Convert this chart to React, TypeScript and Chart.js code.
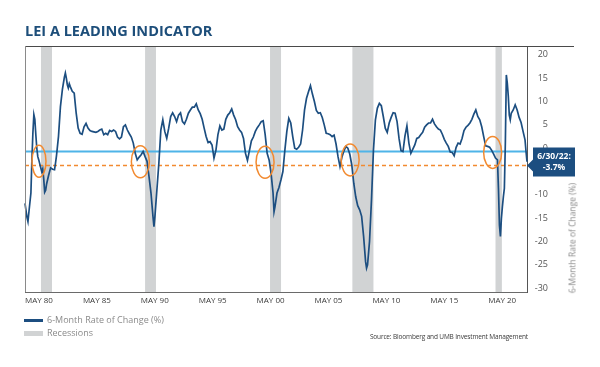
import React, { useEffect, useRef } from "react";
import { Chart, registerables } from "chart.js";

Chart.register(...registerables);

// ---- data ----
// x is a reading step (~1 month); converted to decimal year below
const X_MIN = 1979.17;
const X_MAX = 2022.52;
const STEP_YEARS = 0.085;

const lei1979to1987: [number, number][] = [
  [0, -11.8], [2, -14.8], [3, -15.7], [4, -13.6], [6, -9.6], [7, -2.5], [8, 3.2], [9, 7.2], [10, 6.2],
  [11, 2.9], [12, 0], [13, -1.8], [14, -2.5], [16, -4.2], [17, -5], [18, -4.4], [19, -6.5], [20, -9.4],
  [21, -9], [22, -7.6], [24, -5.8], [26, -4.2], [28, -4.5], [30, -4.6], [31, -3.2], [32, -1.6], [34, 2.5],
  [36, 8.9], [38, 12.6], [40, 15.2], [41, 16.1], [42, 15.0], [43, 13.6], [44, 12.9], [45, 13.8], [46, 13.2],
  [48, 12.2], [50, 11.8], [51, 9.6], [52, 7.5], [54, 4.3], [56, 3.2], [58, 3.0], [60, 4.6], [62, 5.3],
  [64, 4.3], [66, 3.8], [68, 3.6], [70, 3.5], [72, 3.4], [74, 3.6], [76, 3.9], [78, 4.1], [80, 2.9],
  [82, 3.2], [84, 2.9], [86, 3.8], [88, 3.6], [90, 3.9], [92, 3.6], [94, 2.4], [96, 2.0], [98, 2.4],
  [100, 4.6], [102, 5.0],
];
const lei1987to1996: [number, number][] = [
  [104, 3.9], [106, 3.1], [108, 2.4], [110, 1.1], [112, -1.1], [114, -2.5], [116, -1.9], [118, -1.4],
  [120, -0.7], [122, -1.8], [124, -2.8], [126, -6.1], [128, -9.6], [130, -14.6], [131, -16.8], [132, -14.6],
  [134, -8.9], [136, -3.2], [138, 3.9], [140, 6.1], [142, 3.6], [144, 2.1], [146, 4.3], [148, 6.8],
  [150, 7.6], [152, 6.8], [154, 5.7], [156, 7.1], [158, 7.6], [160, 5.7], [162, 5.2], [164, 6.2],
  [166, 7.5], [168, 8.2], [170, 8.8], [172, 8.8], [174, 9.5], [176, 8.2], [178, 7.4], [180, 6.2],
  [182, 4.3], [184, 2.5], [186, 1.2], [188, 1.4], [190, 0.7], [192, -2.1], [194, -0.4], [196, 2.9],
  [198, 4.8], [200, 3.9], [202, 4.1], [204, 6.2],
];
const lei1996to2005: [number, number][] = [
  [206, 7.1], [208, 7.6], [210, 8.4], [212, 7.1], [214, 6.1], [216, 4.6], [218, 3.9], [220, 3.4],
  [222, 2.1], [224, -1.1], [226, -2.6], [228, -0.5], [230, 1.6], [232, 2.4], [234, 3.6], [236, 4.4],
  [238, 5.0], [240, 5.7], [242, 5.9], [244, 2.9], [246, -1.1], [248, -2.5], [250, -5.4], [252, -9.6],
  [253, -13.6], [254, -12.5], [256, -9.6], [258, -8.4], [260, -6.8], [262, -5.0], [264, -0.4], [266, 3.6],
  [268, 6.4], [270, 5.4], [272, 2.5], [274, 0], [276, -0.2], [278, 0.2], [280, 0.9], [282, 3.9],
  [284, 8.2], [286, 10.7], [288, 12.1], [290, 13.4], [292, 11.6], [294, 10.0], [296, 8.1], [298, 7.5],
  [300, 7.6], [302, 6.6], [304, 5.0], [306, 3.2],
];
const lei2005to2013: [number, number][] = [
  [308, 3.1], [310, 2.9], [312, 2.5], [314, 2.8], [316, 0.9], [318, -1.8], [320, -3.9], [322, -1.9],
  [324, -0.6], [326, 0.4], [328, 0], [330, -1.3], [332, -3.6], [334, -7.5], [336, -10.4], [338, -12.3],
  [340, -13.2], [342, -14.6], [344, -18.9], [346, -24.3], [347, -25.7], [348, -25], [350, -20], [352, -11.1],
  [354, -0.4], [356, 6.1], [358, 8.6], [360, 9.6], [362, 9.1], [364, 6.8], [366, 4.3], [368, 3.4],
  [370, 5.4], [372, 6.6], [374, 7.6], [376, 7.5], [378, 5.7], [380, 2.1], [382, -0.5], [384, -0.7],
  [386, 2.6], [388, 4.8], [390, 1.1], [392, -1.1], [394, -0.2], [396, 0.7], [398, 2.1], [400, 2.3],
  [402, 2.9], [404, 3.4], [406, 4.5], [408, 5.0],
];
const lei2013to2022: [number, number][] = [
  [410, 5.4], [412, 5.4], [414, 6.2], [416, 5.2], [418, 4.6], [420, 4.1], [422, 3.9], [424, 3.0],
  [426, 1.9], [428, 1.1], [430, 0.4], [432, -0.8], [434, -0.9], [436, -1.6], [438, 0.2], [440, 1.1],
  [442, 0.9], [444, 2.1], [446, 3.8], [448, 4.5], [450, 4.9], [452, 5.4], [454, 6.2], [456, 7.3],
  [458, 8.2], [460, 6.8], [462, 6.1], [464, 4.6], [466, 2.5], [468, 0.5], [470, 0.4], [472, 0.2],
  [474, -0.4], [476, -1.2], [478, -2.1], [480, -2.5], [481, -8.6], [482, -16.5], [483, -18.9], [484, -15],
  [485, -12.5], [486, -10.4], [487, -8.6], [488, 1.1], [489, 15.7], [490, 13.9], [491, 11.1], [492, 7.1],
  [493, 6.1], [494, 7.5], [496, 8.2], [498, 9.3], [500, 8.2], [502, 6.6], [504, 5.5], [506, 3.6],
  [508, 1.8], [509, -0.7], [510, -2.9], [511, -3.4], [512, -3.7],
];

// recession shading, decimal years
const recessions: [number, number][] = [
  [1980.55, 1981.5],
  [1989.54, 1990.48],
  [2000.33, 2001.28],
  [2007.44, 2009.26],
  [2019.8, 2020.35],
];

// circled warning points (step, value)
const circled: [number, number][] = [
  [14.2, -2.8],
  [117.2, -2.9],
  [243.9, -3.0],
  [330.3, -2.5],
  [475.1, -0.9],
];

const xTickYears = [1980.375, 1985.375, 1990.375, 1995.375, 2000.375, 2005.375, 2010.375, 2015.375, 2020.375];
const xTickLabels = ["MAY 80", "MAY 85", "MAY 90", "MAY 95", "MAY 00", "MAY 05", "MAY 10", "MAY 15", "MAY 20"];
const yTicks = [20, 15, 10, 5, 0, -5, -10, -15, -20, -25, -30];
const Y_MIN = -30.8;
const Y_MAX = 21.9;
const blueRefLevel = -0.7;
const latestValue = -3.7;
const latestLabel = ["6/30/22:", "-3.7%"];

const NAVY = "#1c4e80";
const LIGHT_BLUE = "#4fb4e8";
const ORANGE = "#f28a30";
const REC_GRAY = "#d1d3d4";
const FONT = "'Open Sans', 'Noto Sans', sans-serif";

const toYear = (m: number) => X_MIN + m * STEP_YEARS;

const decorPlugin = {
  id: "decor",
  beforeDatasetsDraw(chart: any) {
    const { ctx, chartArea, scales } = chart;
    const xs = scales.x;
    ctx.save();
    ctx.fillStyle = REC_GRAY;
    recessions.forEach(([a, b]) => {
      const x1 = xs.getPixelForValue(a);
      const x2 = xs.getPixelForValue(b);
      ctx.fillRect(x1, chartArea.top, x2 - x1, chartArea.bottom - chartArea.top);
    });
    ctx.restore();
  },
  afterDraw(chart: any) {
    const { ctx, chartArea, scales } = chart;
    const xs = scales.x;
    const ys = scales.y;
    ctx.save();
    // frame: top and left
    ctx.strokeStyle = "#4a4a4a";
    ctx.lineWidth = 1.2;
    ctx.beginPath();
    ctx.moveTo(chartArea.left, chartArea.top + 0.5);
    ctx.lineTo(574, chartArea.top + 0.5);
    ctx.stroke();
    ctx.strokeStyle = "#8a8a8a";
    ctx.lineWidth = 1;
    ctx.beginPath();
    ctx.moveTo(chartArea.left + 0.5, chartArea.top);
    ctx.lineTo(chartArea.left + 0.5, chartArea.bottom);
    ctx.stroke();

    // circles
    ctx.strokeStyle = ORANGE;
    ctx.lineWidth = 1.5;
    circled.forEach(([m, v], i) => {
      const cx = xs.getPixelForValue(toYear(m));
      const cy = ys.getPixelForValue(v);
      ctx.beginPath();
      ctx.ellipse(cx, cy, i === 0 ? 7 : 9, 16, 0, 0, Math.PI * 2);
      ctx.stroke();
    });

    // latest value callout
    const yv = ys.getPixelForValue(latestValue);
    const tip = chartArea.right;
    const left = tip + 6;
    const right = 575;
    const top = yv - 18;
    const bottom = yv + 11;
    ctx.fillStyle = NAVY;
    ctx.beginPath();
    ctx.moveTo(left, top);
    ctx.lineTo(right, top);
    ctx.lineTo(right, bottom);
    ctx.lineTo(left, bottom);
    ctx.lineTo(left, yv + 6);
    ctx.lineTo(tip, yv);
    ctx.lineTo(left, yv - 6);
    ctx.closePath();
    ctx.fill();
    ctx.fillStyle = "#ffffff";
    ctx.font = `bold 8.5px ${FONT}`;
    ctx.textAlign = "center";
    ctx.textBaseline = "middle";
    const cx = (left + right) / 2;
    ctx.fillText(latestLabel[0], cx, yv - 9);
    ctx.fillText(latestLabel[1], cx, yv + 2.5);
    ctx.restore();
  },
};

export default function App() {
  const canvasRef = useRef<HTMLCanvasElement | null>(null);

  useEffect(() => {
    if (!canvasRef.current) return;
    const allPoints = [
      ...lei1979to1987,
      ...lei1987to1996,
      ...lei1996to2005,
      ...lei2005to2013,
      ...lei2013to2022,
    ].map(([m, v]) => ({ x: toYear(m), y: v }));

    const chart = new Chart(canvasRef.current, {
      type: "line",
      data: {
        datasets: [
          {
            label: "6-Month Rate of Change (%)",
            data: allPoints,
            borderColor: NAVY,
            borderWidth: 1.7,
            pointRadius: 0,
            tension: 0,
            clip: false as any,
          },
          {
            label: "ref",
            data: [
              { x: X_MIN, y: blueRefLevel },
              { x: X_MAX, y: blueRefLevel },
            ],
            borderColor: LIGHT_BLUE,
            borderWidth: 1.8,
            pointRadius: 0,
          },
          {
            label: "latest",
            data: [
              { x: X_MIN, y: latestValue },
              { x: X_MAX, y: latestValue },
            ],
            borderColor: ORANGE,
            borderWidth: 1.4,
            borderDash: [4, 3],
            pointRadius: 0,
          },
        ],
      },
      options: {
        animation: false,
        responsive: false,
        events: [],
        layout: { padding: { left: 25, top: 46, right: 52, bottom: 0 } },
        plugins: {
          legend: { display: false },
          tooltip: { enabled: false },
          title: { display: false },
        },
        scales: {
          x: {
            type: "linear",
            min: X_MIN,
            max: X_MAX,
            grid: { display: false, drawTicks: false },
            border: { display: true, color: "#6a6a6a", width: 1 },
            afterBuildTicks: (s: any) => {
              s.ticks = xTickYears.map((v) => ({ value: v }));
            },
            afterFit: (s: any) => {
              s.height = 75;
            },
            ticks: {
              autoSkip: false,
              maxRotation: 0,
              minRotation: 0,
              padding: 4,
              color: "#3a3a3a",
              font: { family: FONT, size: 8 },
              callback: (_v: any, i: number) => xTickLabels[i],
            },
          },
          y: {
            type: "linear",
            position: "right",
            min: Y_MIN,
            max: Y_MAX,
            grid: { display: false, drawTicks: false },
            border: { display: true, color: "#555555", width: 1 },
            afterBuildTicks: (s: any) => {
              s.ticks = yTicks.map((v) => ({ value: v }));
            },
            afterFit: (s: any) => {
              s.width = 21;
            },
            ticks: {
              padding: 8,
              crossAlign: "far",
              color: "#555555",
              font: { family: FONT, size: 9 },
              callback: (v: any) => String(v),
            },
          },
        },
      },
      plugins: [decorPlugin],
    });
    return () => chart.destroy();
  }, []);

  return (
    <div style={{ position: "absolute", left: 0, top: 0, width: 600, height: 367, background: "#fff", fontFamily: FONT }}>
      <canvas ref={canvasRef} width={600} height={367} style={{ position: "absolute", left: 0, top: 0 }} />
      <div style={{ position: "absolute", left: 25, top: 21, fontSize: 14.5, fontWeight: 700, color: "#1d4e7a", whiteSpace: "nowrap" }}>
        LEI A LEADING INDICATOR
      </div>
      <div
        style={{
          position: "absolute",
          left: 572,
          top: 238,
          transform: "translate(-50%, -50%) rotate(-90deg)",
          fontSize: 8.5,
          color: "#8a8a8a",
          whiteSpace: "nowrap",
        }}
      >
        6-Month Rate of Change (%)
      </div>
      <div style={{ position: "absolute", left: 24, top: 319, width: 19, height: 2.5, background: NAVY }} />
      <div style={{ position: "absolute", left: 47, top: 313, fontSize: 9, color: "#8a8a8a", whiteSpace: "nowrap" }}>
        6-Month Rate of Change (%)
      </div>
      <div style={{ position: "absolute", left: 24, top: 331, width: 19, height: 5, background: REC_GRAY }} />
      <div style={{ position: "absolute", left: 47, top: 326, fontSize: 9, color: "#8a8a8a", whiteSpace: "nowrap" }}>
        Recessions
      </div>
      <div
        style={{
          position: "absolute",
          right: 72,
          top: 332,
          fontSize: 6.5,
          color: "#3a3a3a",
          whiteSpace: "nowrap",
          letterSpacing: -0.15,
        }}
      >
        Source: Bloomberg and UMB Investment Management
      </div>
    </div>
  );
}
